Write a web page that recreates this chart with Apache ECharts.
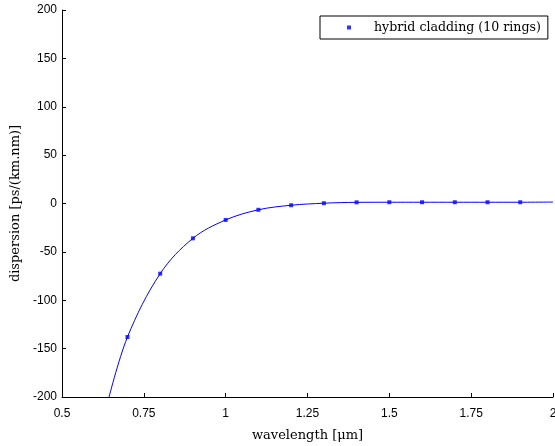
<!DOCTYPE html>
<html><head><meta charset="utf-8">
<script src="https://cdn.jsdelivr.net/npm/echarts@6/dist/echarts.min.js"></script>
<style>html,body{margin:0;padding:0;background:#fff}#c{width:555px;height:446px}</style>
</head><body><div id="c"></div>
<script>
const wavelengths = [0.7, 0.8, 0.9, 1.0, 1.1, 1.2, 1.3, 1.4, 1.5, 1.6, 1.7, 1.8, 1.9];
const dispersion = [-138, -72.5, -36, -17, -6.5, -1.8, 0.3, 1.2, 1.3, 1.3, 1.3, 1.3, 1.3];
const curveX = [0.64, 0.7, 0.8, 0.9, 1.0, 1.1, 1.2, 1.3, 1.4, 1.5, 1.6, 1.7, 1.8, 1.9, 2.0];
const curveY = [-205, -138, -72.5, -36, -17, -6.5, -1.8, 0.3, 1.2, 1.3, 1.3, 1.3, 1.3, 1.3, 1.5];
const seriesName = 'hybrid cladding (10 rings)';

const chart = echarts.init(document.getElementById('c'), null, {renderer: 'canvas'});
const serif = 'DejaVu Serif';
const sans = 'Liberation Sans';
chart.setOption({
  animation: false,
  backgroundColor: '#fff',
  grid: {left: 62, right: 2, top: 10, bottom: 49, containLabel: false, outerBoundsMode: 'none'},
  legend: {
    data: [seriesName],
    left: 320, top: 16,
    orient: 'vertical',
    backgroundColor: '#fff',
    borderColor: '#000', borderWidth: 1, borderRadius: 0,
    padding: [5, 7, 5, 27],
    itemWidth: 4, itemHeight: 4,
    icon: 'rect',
    textStyle: {fontFamily: serif, fontSize: 12.6, color: '#000', padding: [0, 0, 0, 18]}
  },
  xAxis: {
    type: 'value', min: 0.5, max: 2, interval: 0.25,
    name: 'wavelength [\u03bcm]', nameLocation: 'middle', nameGap: 32,
    nameTextStyle: {fontFamily: serif, fontSize: 13, color: '#000'},
    axisLine: {show: true, onZero: false, lineStyle: {color: '#000', width: 1}},
    axisTick: {show: true, inside: true, length: 4, lineStyle: {color: '#000'}},
    axisLabel: {fontFamily: sans, fontSize: 12, color: '#000', margin: 11},
    splitLine: {show: false}
  },
  yAxis: {
    type: 'value', min: -200, max: 200, interval: 50,
    name: 'dispersion [ps/(km.nm)]', nameLocation: 'middle', nameGap: 36, nameRotate: 90,
    nameTextStyle: {fontFamily: serif, fontSize: 13, color: '#000'},
    axisLine: {show: true, onZero: false, lineStyle: {color: '#000', width: 1}},
    axisTick: {show: true, inside: true, length: 4, lineStyle: {color: '#000'}},
    axisLabel: {fontFamily: sans, fontSize: 12, color: '#000', margin: 5},
    splitLine: {show: false}
  },
  series: [
    {
      name: 'curve', type: 'line', smooth: 0.35, showSymbol: false, symbol: 'none',
      clip: true,
      lineStyle: {color: '#0000ff', width: 1},
      data: curveX.map((x, i) => [x, curveY[i]]),
      z: 2
    },
    {
      name: seriesName, type: 'scatter', symbol: 'rect', symbolSize: 4,
      itemStyle: {color: '#0000ff'},
      data: wavelengths.map((x, i) => [x, dispersion[i]]),
      z: 3
    }
  ]
});
</script></body></html>
